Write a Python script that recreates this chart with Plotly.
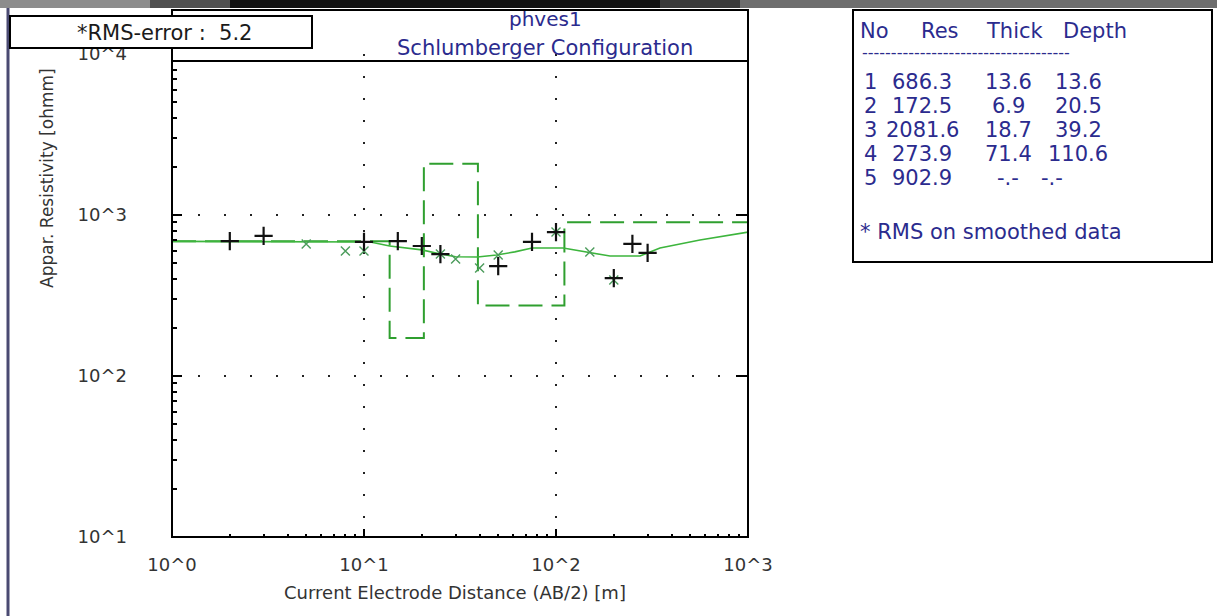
import plotly.graph_objects as go

# ---------------- data ----------------
# observed apparent resistivity (black +)
obs_ab2 = [2, 3, 10, 15, 20, 25, 50, 75, 100, 200, 250, 300]
obs_rho = [689, 741, 680, 689, 642, 572, 482, 680, 783, 406, 661, 581]
# smoothed data (green x)
smo_ab2 = [5, 8, 10, 25, 30, 40, 50, 100, 150, 200]
smo_rho = [661, 597, 597, 572, 533, 469, 564, 783, 589, 395]
# model response curve
cur_ab2 = [1, 4.6, 10.8, 13.6, 20, 25, 30, 39, 49, 61, 75, 109, 145, 191, 274, 348, 562, 1000]
cur_rho = [686, 684, 680, 642, 607, 572, 550, 548, 564, 590, 624, 624, 589, 556, 556, 624, 700, 783]
# layered model
layer_no = [1, 2, 3, 4, 5]
layer_res = [686.3, 172.5, 2081.6, 273.9, 902.9]
layer_thick = ["13.6", "6.9", "18.7", "71.4", "-.-"]
layer_depth = [13.6, 20.5, 39.2, 110.6, None]
layer_depth_txt = ["13.6", "20.5", "39.2", "110.6", "-.-"]
rms_error = 5.2
x_tickvals = [1, 10, 100, 1000]
x_ticktext = ["10^0", "10^1", "10^2", "10^3"]
y_tickvals = [10, 100, 1000, 10000]
y_ticktext = ["10^1", "10^2", "10^3", "10^4"]

# ---------------- geometry helpers (layout only) ----------------
W, H = 1217, 616
L, R, T, B = 172, 748, 54, 537


def px(x):
    return (x - L) / (R - L)


def py(y):
    return (B - y) / (B - T)


FONT = "DejaVu Sans"
NAVY = "#2b2b8e"
GREEN_CURVE = "#3db53d"
GREEN_STEP = "#2f9f2f"
GREEN_X = "#4c9c5c"

step_x = [1] + [d for d in layer_depth if d is not None] + [1000]
step_y = layer_res + [layer_res[-1]]

minor_x = [m * 10 ** k for k in range(0, 3) for m in range(2, 10)]
minor_y = [m * 10 ** k for k in range(1, 4) for m in range(2, 10)]

fig = go.Figure()
fig.add_trace(go.Scatter(x=step_x, y=step_y, mode="lines", line_shape="hv",
                         line=dict(color=GREEN_STEP, width=2, dash="24px,9px"),
                         showlegend=False, hoverinfo="skip"))
fig.add_trace(go.Scatter(x=cur_ab2, y=cur_rho, mode="lines",
                         line=dict(color=GREEN_CURVE, width=1.6),
                         showlegend=False))
fig.add_trace(go.Scatter(x=smo_ab2, y=smo_rho, mode="markers",
                         marker=dict(symbol="x-thin", size=9,
                                     line=dict(color=GREEN_X, width=1.4)),
                         showlegend=False))
fig.add_trace(go.Scatter(x=obs_ab2, y=obs_rho, mode="markers",
                         marker=dict(symbol="cross-thin", size=13,
                                     line=dict(color="#111111", width=2.2)),
                         showlegend=False))
fig.add_trace(go.Scatter(x=[], y=[], yaxis="y2", showlegend=False))

fig.update_layout(
    width=W, height=H, autosize=False,
    margin=dict(l=L, r=W - R, t=T, b=H - B, pad=0),
    paper_bgcolor="white", plot_bgcolor="white",
    font=dict(family=FONT, size=18, color="#333333"),
    xaxis=dict(type="log", range=[0, 3], tickmode="array",
               tickvals=x_tickvals, ticktext=x_ticktext,
               ticks="inside", ticklen=8, tickwidth=2, tickcolor="black",
               ticklabelstandoff=15,
               showline=False, zeroline=False,
               showgrid=True, gridcolor="#222222", gridwidth=2, griddash="2px,20px",
               minor=dict(tickmode="array", tickvals=minor_x, ticks="inside",
                          ticklen=3, tickwidth=1.5, tickcolor="black", showgrid=False),
               tickfont=dict(family=FONT, size=18, color="#333333")),
    yaxis=dict(type="log", range=[1, 4], tickmode="array",
               tickvals=y_tickvals, ticktext=y_ticktext,
               ticks="inside", ticklen=10, tickwidth=2, tickcolor="black",
               ticklabelstandoff=44,
               showline=False, zeroline=False, showgrid=False,
               minor=dict(tickmode="array", tickvals=minor_y, ticks="inside",
                          ticklen=5, tickwidth=1.5, tickcolor="black", showgrid=False),
               tickfont=dict(family=FONT, size=18, color="#333333")),
    yaxis2=dict(type="log", range=[1, 4], overlaying="y", side="right",
                tickmode="array", tickvals=[100, 1000],
                ticks="inside", ticklen=12, tickwidth=2, tickcolor="black",
                showticklabels=False, showline=False, zeroline=False,
                showgrid=True, gridcolor="#222222", gridwidth=2, griddash="2px,24px"),
)

shapes = []
# window chrome: top bar and left border
bar = [(0, 150, "#8c8c8c"), (150, 230, "#505050"), (230, 660, "#111111"),
       (660, 740, "#3a3a3a"), (740, 1217, "#6e6e6e")]
for x0, x1, c in bar:
    shapes.append(dict(type="rect", xref="paper", yref="paper",
                       x0=px(x0), x1=px(x1), y0=py(8), y1=py(0),
                       line=dict(width=0), fillcolor=c, layer="above"))
shapes.append(dict(type="line", xref="paper", yref="paper",
                   x0=px(8), x1=px(8), y0=py(8), y1=py(616),
                   line=dict(color="#4a4a72", width=3), layer="above"))
# plot frame
shapes.append(dict(type="rect", xref="paper", yref="paper",
                   x0=0, x1=1, y0=0, y1=py(10),
                   line=dict(color="black", width=2), layer="above"))
shapes.append(dict(type="line", xref="paper", yref="paper",
                   x0=0, x1=1, y0=py(61), y1=py(61),
                   line=dict(color="black", width=2), layer="above"))
# RMS box
shapes.append(dict(type="rect", xref="paper", yref="paper",
                   x0=px(10), x1=px(312), y0=py(48), y1=py(16),
                   line=dict(color="black", width=2), fillcolor="white", layer="above"))
# table box
shapes.append(dict(type="rect", xref="paper", yref="paper",
                   x0=px(853), x1=px(1212), y0=py(262), y1=py(10),
                   line=dict(color="black", width=2), fillcolor="white", layer="above"))
fig.update_layout(shapes=shapes)

ann = []


def text(x, y, s, size=20, color=NAVY, xanchor="center", angle=0):
    ann.append(dict(xref="paper", yref="paper", x=px(x), y=py(y), text=s,
                    showarrow=False, xanchor=xanchor, yanchor="middle",
                    textangle=angle, font=dict(family=FONT, size=size, color=color)))


text(164, 33, "*RMS-error :  %.1f" % rms_error, size=21, color="#1a1a1a")
text(545, 19, "phves1", size=20)
text(545, 48, "Schlumberger Configuration", size=21)
text(455, 592, "Current Electrode Distance (AB/2) [m]", size=18, color="#333333")
text(47, 178, "Appar. Resistivity [ohmm]", size=17, color="#333333", angle=-90)

# table
TS = 21
text(858, 31, "No", size=TS, xanchor="left")
text(940, 31, "Res", size=TS)
text(1015, 31, "Thick", size=TS)
text(1095, 31, "Depth", size=TS)
text(860, 53, "-" * 36, size=16, xanchor="left")
row_y = [82, 106, 130, 154, 178]
for i in range(len(layer_no)):
    yy = row_y[i]
    text(870, yy, str(layer_no[i]), size=TS)
    text(922, yy, "%.1f" % layer_res[i], size=TS)
    text(1008, yy, layer_thick[i], size=TS)
    text(1078 if layer_depth_txt[i] != "-.-" else 1052, yy, layer_depth_txt[i], size=TS)
text(858, 232, "* RMS on smoothed data", size=TS, xanchor="left")

fig.update_layout(annotations=ann)
fig.write_html("out.html")
